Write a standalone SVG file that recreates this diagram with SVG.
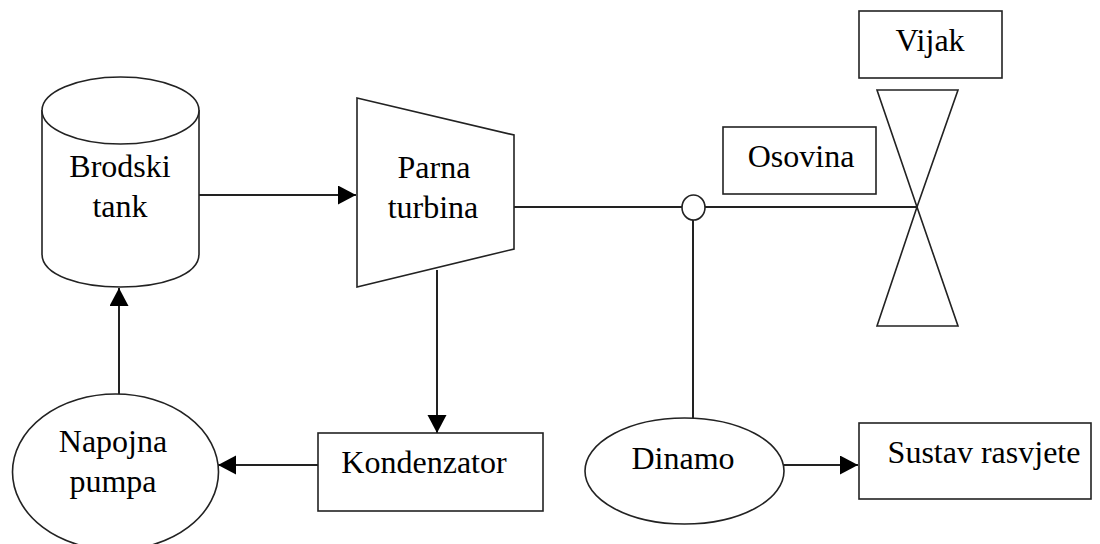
<svg xmlns="http://www.w3.org/2000/svg" width="1100" height="544" viewBox="0 0 1100 544">
<style>
.s{fill:#fff;stroke:#222;stroke-width:1.6}
.l{fill:none;stroke:#222;stroke-width:2}
text{font-family:"Liberation Serif","Times New Roman",serif;font-size:32px;fill:#000;text-anchor:middle}
</style>
<defs><marker id="a" markerUnits="userSpaceOnUse" markerWidth="20" markerHeight="20" refX="18" refY="9.5" orient="auto"><path d="M0 0L18 9.5L0 19Z" fill="#000"/></marker></defs>
<rect width="1100" height="544" fill="#fff"/>
<g id="connectors">
<path class="l" d="M199 195H356" marker-end="url(#a)"/>
<path class="l" d="M119 394V288" marker-end="url(#a)"/>
<path class="l" d="M437 270V433" marker-end="url(#a)"/>
<path class="l" d="M318 465H218" marker-end="url(#a)"/>
<path class="l" d="M784 465H858" marker-end="url(#a)"/>
<path class="l" d="M514 207H682"/>
<path class="l" d="M705 207H918"/>
<path class="l" d="M693 219V418"/>
</g>
<g id="tank"><path class="s" d="M42 110V254C42 298 199 298 199 254V110"/><ellipse class="s" cx="120.500" cy="110.500" rx="78.500" ry="33.500"/><text x="120" y="177">Brodski</text><text x="120" y="217">tank</text></g>
<g id="turbina"><path class="s" d="M357 98L514 135V249L357 287Z"/><text x="434" y="178">Parna</text><text x="433" y="218">turbina</text></g>
<g id="vijak"><rect class="s" x="859" y="11" width="143" height="67"/><text x="930" y="51">Vijak</text></g>
<g id="propeler"><path class="s" d="M877 90H958L917 207L958 326H877L917 207Z"/></g>
<g id="osovina"><rect class="s" x="723" y="127" width="153" height="67"/><text x="801" y="167">Osovina</text></g>
<g id="spoj"><ellipse class="s" cx="693.500" cy="207.500" rx="11.500" ry="12.500"/></g>
<g id="pumpa"><ellipse class="s" cx="115.500" cy="472" rx="103" ry="78"/><text x="113" y="452">Napojna</text><text x="113" y="492">pumpa</text></g>
<g id="kondenzator"><rect class="s" x="318" y="433" width="225" height="78"/><text x="424" y="473">Kondenzator</text></g>
<g id="dinamo"><ellipse class="s" cx="684.500" cy="471" rx="99.500" ry="53"/><text x="683" y="469">Dinamo</text></g>
<g id="rasvjeta"><rect class="s" x="859" y="423" width="232" height="76"/><text x="984" y="463">Sustav rasvjete</text></g>
</svg>
